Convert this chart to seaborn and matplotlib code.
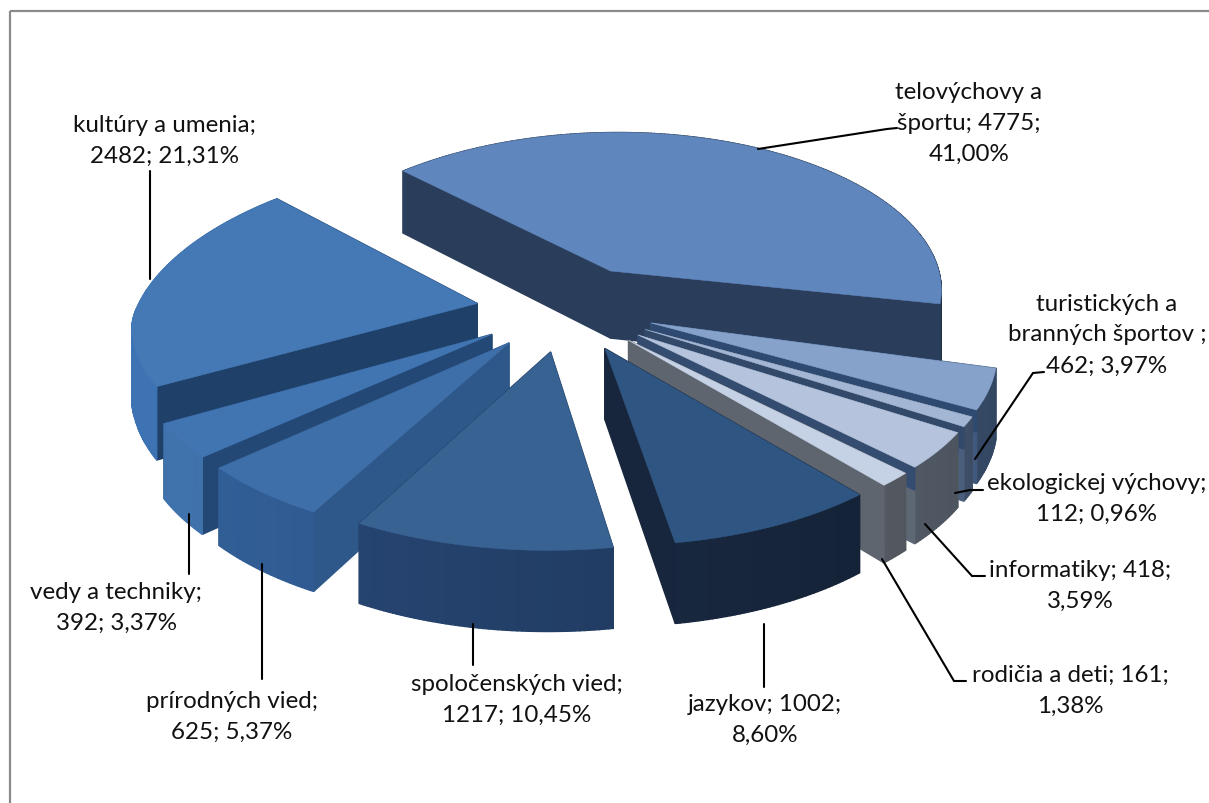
import numpy as np
import pandas as pd
import matplotlib
matplotlib.use("Agg")
import matplotlib.pyplot as plt
from matplotlib.patches import Polygon
from matplotlib.colors import to_rgb
import seaborn as sns

# ---------- data ----------
names = ["telovýchovy a športu", "turistických a branných športov", "ekologickej výchovy",
         "informatiky", "rodičia a deti", "jazykov", "spoločenských vied",
         "prírodných vied", "vedy a techniky", "kultúry a umenia"]
counts = [4775, 462, 112, 418, 161, 1002, 1217, 625, 392, 2482]
label_texts = ["telovýchovy a\nšportu; 4775;\n41,00%", "turistických a\nbranných športov ;\n462; 3,97%",
               "ekologickej výchovy;\n112; 0,96%", "informatiky; 418;\n3,59%", "rodičia a deti; 161;\n1,38%",
               "jazykov; 1002;\n8,60%", "spoločenských vied;\n1217; 10,45%", "prírodných vied;\n625; 5,37%",
               "vedy a techniky;\n392; 3,37%", "kultúry a umenia;\n2482; 21,31%"]
top_colors = ["#5F86BD", "#86A2CB", "#A3B6D4", "#B5C4DC", "#C5D2E6", "#2F5682", "#386292", "#3E6FA8", "#4175B2", "#4479B6"]
side_colors = ["#2A3E5C", "#41597C", "#4B5F7C", "#5E6774", "#5F656F", "#182840", "#223E66", "#2C5385", "#386497", "#35649C"]
cut_colors = ["#2A3E5C", "#2F4A70", "#33496A", "#344C70", "#5F656F", "#17263C", "#1F3A60", "#2F588A", "#234876", "#1F4068"]
cut_low_colors = ["#2A3E5C", "#41597C", "#4B5F7C", "#5E6774", "#5F656F", "#17263C", "#1F3A60", "#2F588A", "#234876", "#1F4068"]

# ---------- layout ----------
CX, CY = 566, 309
R, EXPLODE, DEPTH = 340, 90, 69
K, PX_BACK, PX_FRONT, PY = 0.48, 0.00045, 0.00037, 0.00035
VX = 100      # horizontal vanishing offset
TILT = 0.025
START = -12.0

label_pos = [(969, 123), (1107, 335), (1097, 499), (1080, 586), (1070, 691), (765, 720), (517, 700), (232, 717), (116, 608), (164, 141)]
leaders = [[(758, 150), (887, 130), (897, 129)], [(975, 460), (1033, 374), (1044, 373)],
           [(955, 494), (970, 491), (983, 491)], [(925, 525), (972, 577), (985, 577)],
           [(882, 560), (954, 682), (966, 682)], [(764, 625), (764, 688)], [(473, 625), (473, 666)],
           [(262, 565), (262, 680)], [(189, 515), (189, 575)], [(150, 280), (150, 172)]]

sns.set_theme(style="white")
plt.rcParams["font.family"] = ["Lato", "DejaVu Sans"]
df = pd.DataFrame({"name": names, "count": counts})
df["sweep"] = df["count"] / df["count"].sum() * 360.0
df["end"] = START + df["sweep"].iloc[0] - df["sweep"].cumsum()
df["start"] = df["end"] + df["sweep"]
df["mid"] = (df["start"] + df["end"]) / 2

fig = plt.figure(figsize=(12.09, 8.04), dpi=100, facecolor="white")
ax = fig.add_axes([0, 0, 1, 1])
ax.set_xlim(0, 1209)
ax.set_ylim(804, 0)
ax.axis("off")
ax.add_patch(plt.Rectangle((9.5, 11.5), 1300, 900, fill=False, ec="#8A8A8A", lw=1.6, zorder=0))


def project(X, Y, drop=0.0):
    sx = 1 / (1 + (PX_BACK if Y > 0 else PX_FRONT) * Y)
    sy = 1 / (1 + PY * Y)
    tilt = TILT * X * np.clip(-Y / 100, 0, 1)
    return (CX + VX + (X - VX) * sx, CY - K * Y * sy + tilt + DEPTH * drop * sy)


def shade(color, f):
    c = np.array(to_rgb(color))
    return tuple(np.clip(c * f, 0, 1))


order = df.assign(ay=EXPLODE * np.sin(np.radians(df["mid"]))).sort_values("ay", ascending=False).index
z = 2
for i in order:
    row = df.loc[i]
    ax0 = EXPLODE * np.cos(np.radians(row["mid"]))
    ay0 = EXPLODE * np.sin(np.radians(row["mid"]))
    th = np.radians(np.linspace(row["start"], row["end"], max(int(row["sweep"] * 1.5), 6)))
    xs = ax0 + R * np.cos(th)
    ys = ay0 + R * np.sin(th)
    faces = []
    for xe, ye in [(xs[0], ys[0]), (xs[-1], ys[-1])]:
        low = [project(ax0, ay0, 0.3), project(xe, ye, 0.3), project(xe, ye, 1), project(ax0, ay0, 1)]
        high = [project(ax0, ay0), project(xe, ye), project(xe, ye, 0.3), project(ax0, ay0, 0.3)]
        faces.append((ye, low, cut_low_colors[i]))
        faces.append((ye, high, cut_colors[i]))
    for j in range(len(th) - 1):
        quad = [project(xs[j], ys[j]), project(xs[j + 1], ys[j + 1]),
                project(xs[j + 1], ys[j + 1], 1), project(xs[j], ys[j], 1)]
        f = 0.95 + 0.2 * np.cos(th[j] - np.radians(200))
        faces.append((ys[j], quad, shade(side_colors[i], f)))
    faces.sort(key=lambda t: -t[0])
    for _, quad, col in faces:
        ax.add_patch(Polygon(quad, closed=True, fc=col, ec=col, lw=1.0, zorder=z))
    top = [project(ax0, ay0)] + [project(a, b) for a, b in zip(xs, ys)]
    ax.add_patch(Polygon(top, closed=True, fc=top_colors[i], ec=top_colors[i], lw=0.4, zorder=z + 0.5))
    z += 1

for path in leaders:
    px, py = zip(*path)
    ax.plot(px, py, color="black", lw=1.5, zorder=50, solid_joinstyle="miter")

for txt, (x, y) in zip(label_texts, label_pos):
    ax.text(x, y, txt, ha="center", va="center", fontsize=17.4, color="#111111", linespacing=1.58, zorder=60)

fig.savefig("out.png", dpi=100)
